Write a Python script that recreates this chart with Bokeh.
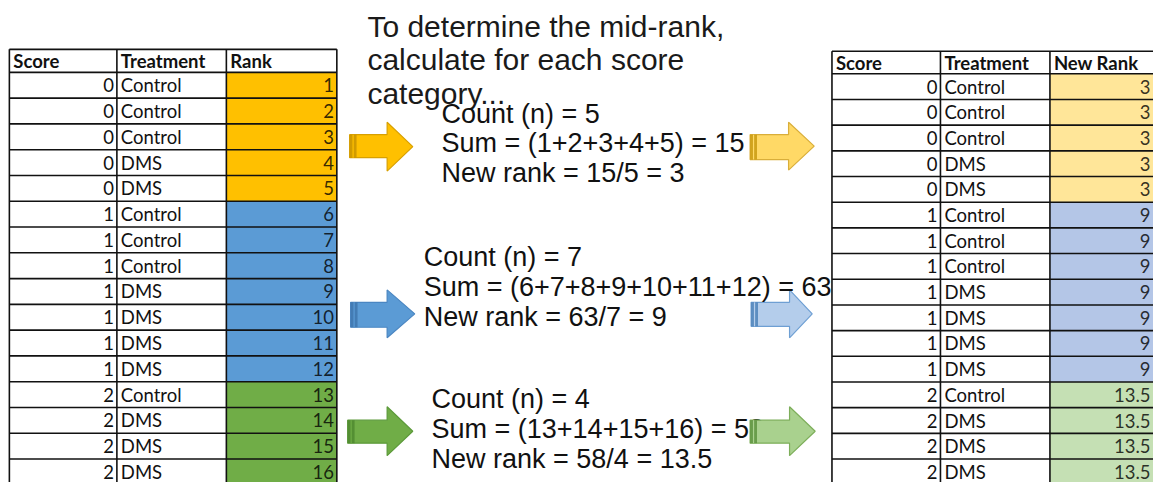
from bokeh.plotting import figure
from bokeh.models import ColumnDataSource, Range1d
from bokeh.core.properties import value
from bokeh.embed import file_html
from bokeh.resources import INLINE

# ---------------- data ----------------
scores = [0, 0, 0, 0, 0, 1, 1, 1, 1, 1, 1, 1, 2, 2, 2, 2]
treatments = ["Control", "Control", "Control", "DMS", "DMS",
              "Control", "Control", "Control", "DMS", "DMS", "DMS", "DMS",
              "Control", "DMS", "DMS", "DMS"]
ranks = [1, 2, 3, 4, 5, 6, 7, 8, 9, 10, 11, 12, 13, 14, 15, 16]
new_ranks = [3, 3, 3, 3, 3, 9, 9, 9, 9, 9, 9, 9, 13.5, 13.5, 13.5, 13.5]
headers_left = ["Score", "Treatment", "Rank"]
headers_right = ["Score", "Treatment", "New Rank"]

title_lines = ["To determine the mid-rank,", "calculate for each score", "category..."]
block_lines = [
    ["Count (n) = 5", "Sum = (1+2+3+4+5) = 15", "New rank = 15/5 = 3"],
    ["Count (n) = 7", "Sum = (6+7+8+9+10+11+12) = 63", "New rank = 63/7 = 9"],
    ["Count (n) = 4", "Sum = (13+14+15+16) = 58", "New rank = 58/4 = 13.5"],
]

# styles per score category
strong_fill = ["#FFC000", "#5B9BD5", "#70AD47"]
strong_line = ["#D8A000", "#4A86C2", "#5C9A3A"]
strong_band = ["#C99400", "#3F77AE", "#4F8A30"]
light_fill = ["#FFE699", "#B4C6E7", "#C5E0B4"]
arrow_light_fill = ["#FFD966", "#B4CDEB", "#A9D18E"]
arrow_light_line = ["#D9AE3A", "#6E9FD3", "#7DAE5A"]
arrow_light_band = ["#C99A10", "#4E82BA", "#5E9440"]

W, H = 1153, 482
p = figure(width=W, height=H, output_backend="svg", toolbar_location=None,
           x_range=Range1d(0, 1169), y_range=Range1d(503, 0),
           min_border=0, outline_line_color=None)
p.axis.visible = False
p.grid.visible = False
p.background_fill_color = "white"

TABLE_FONT = value("Lato")
TEXT_FONT = value("Liberation Sans")
TABLE_SIZE = "18.5px"


def draw_table(cols, head_top, head_bot, row_h, headers, rank_vals, fills, rank_fmt, rank_right):
    n = len(scores)
    tops = [head_bot + i * row_h for i in range(n)]
    bots = [t + row_h for t in tops]
    mids = [t + row_h / 2 for t in tops]
    cat_fill = [fills[s] for s in scores]
    src = ColumnDataSource(dict(top=tops, bottom=bots, mid=mids, fill=cat_fill,
                                score=[str(s) for s in scores], treat=treatments,
                                rank=[rank_fmt(r) for r in rank_vals]))
    p.quad(left=cols[2], right=cols[3], top="top", bottom="bottom", fill_color="fill",
           line_color=None, source=src)
    # grid lines
    ys = [head_top, head_bot] + bots
    p.segment(x0=[cols[0]] * len(ys), x1=[cols[3]] * len(ys), y0=ys, y1=ys,
              line_color="#111111", line_width=1.6)
    bottom_y = bots[-1]
    p.segment(x0=cols, x1=cols, y0=[head_top] * 4, y1=[bottom_y] * 4,
              line_color="#111111", line_width=1.6)
    # header
    hy = (head_top + head_bot) / 2
    p.text(x=[c + 4 for c in cols[:3]], y=[hy] * 3, text=headers, text_font=TABLE_FONT,
           text_font_size=TABLE_SIZE, text_font_style="bold", text_baseline="middle",
           text_align="left", text_color="#111111")
    p.text(x=cols[1] - 3, y="mid", text="score", source=src, text_font=TABLE_FONT,
           text_font_size=TABLE_SIZE, text_baseline="middle", text_align="right",
           text_color="#111111")
    p.text(x=cols[1] + 4, y="mid", text="treat", source=src, text_font=TABLE_FONT,
           text_font_size=TABLE_SIZE, text_baseline="middle", text_align="left",
           text_color="#111111")
    p.text(x=rank_right, y="mid", text="rank", source=src, text_font=TABLE_FONT,
           text_font_size=TABLE_SIZE, text_baseline="middle", text_align="right",
           text_color="black", text_alpha=0.8)


def fmt_int(r):
    return str(int(r))


def fmt_num(r):
    return str(int(r)) if float(r).is_integer() else str(r)


draw_table([9, 118, 229, 341], 51, 75, 26.9, headers_left, ranks, strong_fill, fmt_int, 338)
draw_table([843, 953, 1064, 1178], 53, 76.5, 26.8, headers_right, new_ranks, light_fill, fmt_num, 1166)


def arrow(x0, xb, tip, sy0, sy1, hy0, hy1, fill, line, band):
    ty = (hy0 + hy1) / 2
    xs = [x0, xb, xb, tip, xb, xb, x0]
    ys = [sy0, sy0, hy0, ty, hy1, sy1, sy1]
    p.patch(xs, ys, fill_color=fill, line_color=line, line_width=1.2)
    p.quad(left=x0, right=x0 + 7, top=sy0, bottom=sy1, fill_color=band, line_color=None,
           fill_alpha=0.85)
    p.segment(x0=x0 + 3.5, x1=x0 + 3.5, y0=sy0, y1=sy1, line_color=fill, line_width=1.2)


# title
p.text(x=[372] * 3, y=[27, 62, 97], text=title_lines, text_font=TEXT_FONT,
       text_font_size="30px", text_baseline="middle", text_align="left", text_color="#1a1a1a")

block_x = [447, 429, 437]
block_y = [118, 268, 416]
left_arrows = [(354, 392, 418, 140, 164, 127, 178),
               (355, 392, 420, 315, 341, 302, 352),
               (352, 392, 418, 438, 462, 424, 475)]
right_arrows = [(760, 799, 825, 140, 166, 127, 177),
                (761, 800, 823, 315, 340, 302, 352),
                (760, 800, 826, 438, 462, 424, 475)]

for k in range(3):
    a = left_arrows[k]
    arrow(*a, strong_fill[k], strong_line[k], strong_band[k])
    b = right_arrows[k]
    if k == 1:
        arrow(*b, arrow_light_fill[k], arrow_light_line[k], arrow_light_band[k])
    p.text(x=[block_x[k]] * 3, y=[block_y[k], block_y[k] + 31, block_y[k] + 62],
           text=block_lines[k], text_font=TEXT_FONT, text_font_size="27px",
           text_baseline="middle", text_align="left", text_color="#111111")
    if k != 1:
        arrow(*b, arrow_light_fill[k], arrow_light_line[k], arrow_light_band[k])

open("out.html", "w").write(file_html(p, INLINE))
